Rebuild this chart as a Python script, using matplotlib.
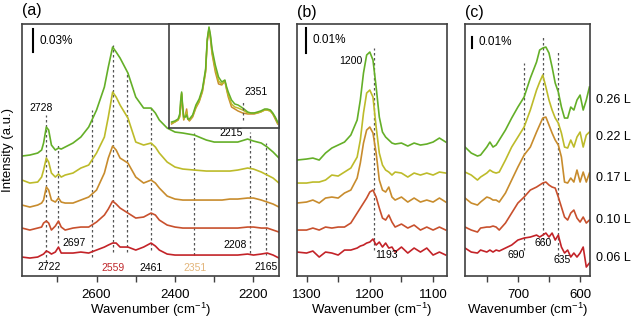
import matplotlib
matplotlib.use("Agg")
import matplotlib.pyplot as plt

plt.rcParams['font.family'] = ['Liberation Sans', 'DejaVu Sans']
plt.rcParams['mathtext.default'] = 'regular'

# exposures, top to bottom
doses = ["0.26 L", "0.22 L", "0.17 L", "0.10 L", "0.06 L"]
colors = ["#64af28", "#bdbb2a", "#c88c2d", "#c8502d", "#c32328"]

# panel (a): 2800-2130 cm-1, offset traces (a.u.)
wn_a = [2790, 2770, 2750, 2740, 2735, 2728, 2722, 2715, 2705, 2697, 2690, 2680, 2660, 2640,
        2620, 2600, 2580, 2570, 2559, 2550, 2540, 2520, 2500, 2480, 2461, 2450, 2440, 2420,
        2400, 2380, 2351, 2320, 2300, 2280, 2260, 2240, 2215, 2200, 2180, 2165, 2150, 2135]
a_026 = [120, 121, 123, 126, 133, 149, 146, 131, 126, 128, 127, 129, 133, 139, 149, 166, 189, 209,
         229, 224, 218, 203, 179, 168, 168, 163, 156, 148, 144, 143, 141, 136, 134, 134, 134, 134,
         137, 135, 133, 129, 124, 118]
a_022 = [96, 93, 94, 99, 106, 118, 114, 103, 99, 102, 99, 101, 103, 108, 111, 123, 139, 159, 184,
         179, 171, 158, 134, 131, 133, 129, 123, 114, 109, 107, 106, 105, 105, 105, 105, 106, 108,
         107, 104, 101, 98, 93]
a_017 = [71, 69, 71, 73, 76, 89, 86, 76, 74, 78, 74, 73, 73, 76, 79, 86, 103, 118, 130, 126, 118,
         113, 99, 93, 96, 93, 88, 80, 77, 76, 76, 76, 76, 76, 77, 77, 78, 78, 76, 74, 72, 69]
a_010 = [48, 46, 48, 49, 53, 55, 53, 46, 50, 55, 49, 46, 48, 49, 49, 54, 61, 67, 75, 72, 68, 63,
         58, 59, 63, 61, 56, 51, 49, 48, 48, 48, 48, 48, 48, 48, 49, 49, 48, 48, 46, 44]
a_006 = [19, 18, 19, 21, 22, 25, 24, 22, 24, 29, 23, 23, 23, 24, 23, 26, 29, 31, 33, 33, 29, 29,
         26, 29, 33, 30, 26, 22, 21, 21, 21, 21, 21, 21, 21, 21, 22, 21, 22, 23, 21, 18]

# inset of (a): overlaid traces
ins_green = [6, 7, 9, 14, 26, 36, 23, 11, 11, 13, 9, 9, 13, 23, 29, 39, 59, 89, 101, 93, 79, 63,
             51, 46, 48, 41, 36, 28, 24, 23, 20, 16, 15, 15, 16, 17, 19, 19, 18, 15, 11, 6]
ins_yellow = [5, 6, 8, 12, 22, 35, 21, 9, 12, 16, 9, 8, 12, 21, 27, 37, 57, 87, 100, 91, 76, 59,
              47, 44, 47, 39, 33, 24, 21, 20, 18, 15, 15, 15, 15, 16, 18, 18, 17, 14, 10, 5]
ins_orange = [4, 6, 8, 11, 19, 34, 19, 8, 13, 19, 9, 7, 11, 20, 26, 36, 56, 86, 99, 89, 74, 56,
              44, 43, 47, 38, 31, 21, 19, 17, 15, 14, 14, 14, 15, 16, 18, 18, 17, 14, 9, 4]

# panel (b)
wn_b = [1315, 1300, 1290, 1280, 1270, 1260, 1250, 1240, 1230, 1220, 1215, 1210, 1205, 1200, 1195,
        1190, 1185, 1180, 1175, 1170, 1165, 1160, 1150, 1140, 1130, 1120, 1110, 1100, 1090, 1080]
b_026 = [116, 117, 118, 116, 123, 128, 131, 134, 141, 156, 176, 203, 221, 224, 216, 189, 159, 144,
         139, 136, 133, 132, 133, 130, 133, 131, 132, 134, 138, 134]
b_022 = [93, 93, 94, 94, 96, 101, 100, 104, 108, 119, 136, 163, 183, 186, 179, 149, 123, 111, 106,
         104, 101, 104, 103, 99, 103, 101, 103, 101, 104, 103]
b_017 = [73, 74, 76, 73, 78, 79, 78, 83, 86, 98, 113, 133, 146, 149, 143, 123, 96, 86, 84, 89, 79,
         76, 79, 74, 78, 74, 76, 74, 78, 74]
b_010 = [46, 46, 48, 46, 49, 48, 49, 49, 53, 63, 68, 73, 78, 84, 86, 79, 68, 58, 56, 61, 54, 49,
         52, 48, 51, 46, 49, 46, 49, 46]
b_006 = [24, 23, 25, 19, 24, 23, 21, 26, 26, 28, 30, 31, 33, 34, 37, 31, 34, 29, 33, 28, 29, 24,
         29, 23, 28, 24, 28, 21, 24, 21]

# panel (c)
wn_c = [785, 775, 765, 760, 750, 745, 740, 735, 730, 720, 710, 700, 690, 680, 670, 665, 660, 655,
        650, 645, 640, 635, 630, 625, 620, 615, 610, 605, 600, 595, 590, 585]
c_026 = [129, 123, 120, 121, 129, 134, 129, 131, 136, 146, 158, 169, 179, 198, 214, 226, 228, 229,
         223, 209, 193, 184, 169, 158, 158, 169, 166, 176, 181, 166, 176, 189]
c_022 = [104, 101, 96, 99, 103, 106, 104, 103, 104, 116, 129, 139, 149, 166, 186, 194, 201, 189,
         176, 166, 158, 153, 143, 129, 128, 136, 129, 139, 144, 129, 141, 144]
c_017 = [78, 73, 71, 74, 79, 78, 76, 76, 74, 83, 96, 109, 121, 129, 144, 151, 158, 159, 151, 143,
         136, 131, 119, 94, 93, 98, 94, 106, 94, 104, 94, 103]
c_010 = [49, 46, 44, 48, 49, 49, 50, 49, 46, 53, 63, 73, 79, 86, 89, 91, 93, 94, 91, 89, 88, 79,
         69, 59, 56, 63, 66, 58, 54, 59, 53, 56]
c_006 = [28, 24, 23, 26, 24, 26, 24, 26, 25, 28, 31, 36, 38, 39, 41, 39, 41, 43, 39, 43, 36, 41,
         29, 23, 26, 19, 23, 19, 23, 29, 9, 13]

# dashed guide lines: (wavenumber, y low, y high)
marks_a = [(2728, 14, 161), (2697, 33, 133), (2612, 19, 166), (2559, 24, 231), (2522, 24, 203),
           (2461, 26, 169), (2351, 21, 143), (2210, 23, 144), (2167, 21, 133)]
marks_b = [(1193, 26, 228)]
marks_c = [(690, 26, 213), (660, 36, 241), (635, 21, 226)]

fig = plt.figure(figsize=(6.32, 3.24), dpi=100)
ax_a = fig.add_axes([0.0348, 0.148, 0.4066, 0.7778])
ax_b = fig.add_axes([0.470, 0.148, 0.2373, 0.7778])
ax_c = fig.add_axes([0.7358, 0.148, 0.1978, 0.7778])
ax_in = fig.add_axes([0.2669, 0.605, 0.1745, 0.321])

spine_col = "#404040"
dash_kw = dict(color="#555555", lw=0.9, linestyle=(0, (2, 2)))


def style(ax, xlim, major, minor):
    ax.set_xlim(*xlim)
    ax.set_ylim(0, 252)
    ax.set_yticks([])
    ax.set_xticks(major)
    ax.set_xticks(minor, minor=True)
    ax.tick_params(axis="x", which="both", direction="out", length=4, width=1,
                   color=spine_col, labelsize=9.5, pad=5)
    for s in ax.spines.values():
        s.set_color(spine_col)
        s.set_linewidth(1.2)
    ax.set_xlabel("Wavenumber (cm$^{-1}$)", fontsize=9.5, labelpad=0)


panels = [
    (ax_a, wn_a, [a_026, a_022, a_017, a_010, a_006], marks_a),
    (ax_b, wn_b, [b_026, b_022, b_017, b_010, b_006], marks_b),
    (ax_c, wn_c, [c_026, c_022, c_017, c_010, c_006], marks_c),
]
for ax, wn, traces, marks in panels:
    for x, lo, hi in marks:
        ax.plot([x, x], [lo, hi], **dash_kw)
    for tr, col in zip(traces, colors):
        ax.plot(wn, tr, color=col, lw=1.2)

style(ax_a, (2790, 2135), [2600, 2400, 2200], [2700, 2500, 2300])
style(ax_b, (1315, 1078), [1300, 1200, 1100], [1250, 1150])
style(ax_c, (785, 584), [700, 600], [750, 650])

# inset
for tr, col in zip([ins_orange, ins_yellow, ins_green], ["#c88c2d", "#bdbb2a", "#64af28"]):
    ax_in.plot(wn_a, tr, color=col, lw=1.1)
ax_in.plot([2351, 2351], [8, 28], **dash_kw)
ax_in.text(2269, 36, "2351", fontsize=7.5, ha="center", va="center")
ax_in.set_xlim(2808, 2127)
ax_in.set_ylim(0, 104)
ax_in.set_xticks([])
ax_in.set_yticks([])
for s in ax_in.spines.values():
    s.set_color(spine_col)
    s.set_linewidth(1.2)

# peak labels
fs = 7.5
ax_a.text(2740, 168, "2728", fontsize=fs, ha="center", va="center")
ax_a.text(2687, 33, "2697", fontsize=fs, ha="left", va="center")
ax_a.text(2720, 9, "2722", fontsize=fs, ha="center", va="center")
ax_a.text(2557, 8, "2559", fontsize=fs, ha="center", va="center", color="#c0282c")
ax_a.text(2460, 8, "2461", fontsize=fs, ha="center", va="center")
ax_a.text(2350, 8, "2351", fontsize=fs, ha="center", va="center", color="#e3b57a")
ax_a.text(2167, 9, "2165", fontsize=fs, ha="center", va="center")
ax_a.text(2246, 31, "2208", fontsize=fs, ha="center", va="center")
ax_a.text(2256, 143, "2215", fontsize=fs, ha="center", va="center")
ax_b.text(1230, 215, "1200", fontsize=fs, ha="center", va="center")
ax_b.text(1173, 21, "1193", fontsize=fs, ha="center", va="center")
ax_c.text(702, 21, "690", fontsize=fs, ha="center", va="center")
ax_c.text(660, 33, "660", fontsize=fs, ha="center", va="center")
ax_c.text(629, 16, "635", fontsize=fs, ha="center", va="center")

# scale bars
ax_a.plot([2763, 2763], [224, 247], color="black", lw=1.5)
ax_a.text(2745, 235, "0.03%", fontsize=8.5, ha="left", va="center")
ax_b.plot([1301, 1301], [223, 248], color="black", lw=1.5)
ax_b.text(1291, 236, "0.01%", fontsize=8.5, ha="left", va="center")
ax_c.plot([774, 774], [228, 239], color="black", lw=1.5)
ax_c.text(764, 234, "0.01%", fontsize=8.5, ha="left", va="center")

# panel tags and dose labels
fig.text(22 / 632, 1 - 11 / 324, "(a)", fontsize=11.5, ha="left", va="center")
fig.text(297 / 632, 1 - 12 / 324, "(b)", fontsize=11.5, ha="left", va="center")
fig.text(465 / 632, 1 - 12 / 324, "(c)", fontsize=11.5, ha="left", va="center")
fig.text(8 / 632, 1 - 150 / 324, "Intensity (a.u.)", fontsize=9.5, rotation=90,
         ha="center", va="center")
for lab, py in zip(doses, [100, 137, 178, 220, 258]):
    fig.text(596 / 632, 1 - py / 324, lab, fontsize=9, ha="left", va="center")

fig.savefig("out.png", dpi=100)
